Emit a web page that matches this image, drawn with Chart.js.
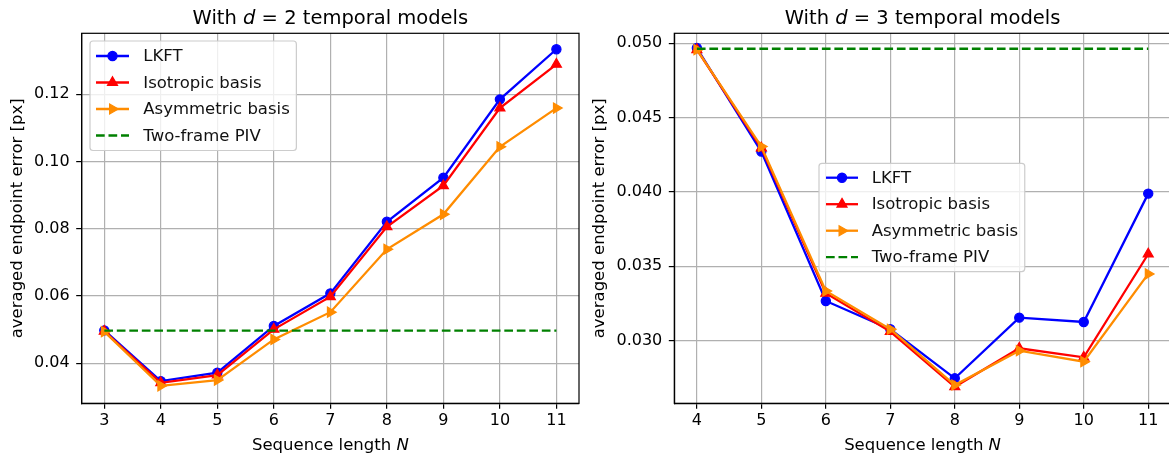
<!DOCTYPE html>
<html>
<head>
<meta charset="utf-8">
<script src="https://cdn.jsdelivr.net/npm/chart.js@4.4.1/dist/chart.umd.min.js"></script>
<style>
  html, body { margin: 0; padding: 0; background: #fff; overflow: hidden; }
  .panel { position: absolute; top: 0; width: 590px; height: 457px; }
</style>
</head>
<body>
<div class="panel" style="left:0"><canvas id="chartD2" width="590" height="457"></canvas></div>
<div class="panel" style="left:590px"><canvas id="chartD3" width="590" height="457"></canvas></div>
<script>
// endpoint error vs. sequence length, d = 2 temporal models
const lengthsD2 = [3, 4, 5, 6, 7, 8, 9, 10, 11];
const lkftD2 = [0.0498, 0.0347, 0.0372, 0.0511, 0.0608, 0.0821, 0.0952, 0.1185, 0.1334];
const isoD2  = [0.0495, 0.0342, 0.0365, 0.0501, 0.0598, 0.0806, 0.0928, 0.1159, 0.1289];
const asymD2 = [0.0494, 0.0333, 0.0350, 0.0471, 0.0552, 0.0739, 0.0843, 0.1044, 0.1159];
const pivXD2 = [3, 11];
const pivD2  = [0.0497, 0.0497];
const yTicksD2 = [0.04, 0.06, 0.08, 0.10, 0.12];

// d = 3 temporal models
const lengthsD3 = [4, 5, 6, 7, 8, 9, 10, 11];
const lkftD3 = [0.04968, 0.04272, 0.03267, 0.03077, 0.02747, 0.03155, 0.03126, 0.03989];
const isoD3  = [0.04957, 0.04295, 0.03319, 0.03061, 0.02690, 0.02949, 0.02888, 0.03583];
const asymD3 = [0.04957, 0.04306, 0.03334, 0.03077, 0.02702, 0.02933, 0.02859, 0.03449];
const pivXD3 = [4, 11];
const pivD3  = [0.04963, 0.04963];
const yTicksD3 = [0.030, 0.035, 0.040, 0.045, 0.050];

const FONT = '"DejaVu Sans"';
const FS_TICK = 16;
const FS = 16.5;
const FS_TITLE = 19.5;
Chart.defaults.font.family = FONT;

const pts = (xs, ys) => xs.map((x, i) => ({ x, y: ys[i] }));

function seriesFor(xs, lkft, iso, asym, pivX, piv) {
  return [
    { label: 'LKFT', data: pts(xs, lkft), color: '#0000ff', style: 'circle', rot: 0, r: 4.6, order: 3 },
    { label: 'Isotropic basis', data: pts(xs, iso), color: '#ff0000', style: 'triangle', rot: 0, r: 5.8, order: 2 },
    { label: 'Asymmetric basis', data: pts(xs, asym), color: '#ff8c00', style: 'triangle', rot: 90, r: 5.8, order: 1 },
    { label: 'Two-frame PIV', data: pts(pivX, piv), color: '#008000', style: false, rot: 0, r: 0, dash: [8.7, 3.8], order: 0 }
  ];
}

// mixed upright / italic text, centred on cx
function drawRuns(ctx, runs, cx, y) {
  const widths = runs.map(([t, it, size]) => {
    ctx.font = `${it ? 'italic ' : ''}${size}px ${FONT}`;
    return ctx.measureText(t).width;
  });
  let x = cx - widths.reduce((a, b) => a + b, 0) / 2;
  ctx.textAlign = 'left';
  ctx.textBaseline = 'alphabetic';
  runs.forEach(([t, it, size], i) => {
    ctx.font = `${it ? 'italic ' : ''}${size}px ${FONT}`;
    ctx.fillText(t, x, y);
    x += widths[i];
  });
}

const panelDecor = {
  id: 'panelDecor',
  afterDraw(chart, args, opts) {
    const { ctx, chartArea: a } = chart;
    ctx.save();

    // frame
    ctx.strokeStyle = '#000';
    ctx.lineWidth = 1.2;
    ctx.strokeRect(a.left, a.top, a.right - a.left, a.bottom - a.top);

    // legend
    const lg = opts.legend;
    const items = chart.data.datasets;
    ctx.font = `${FS}px ${FONT}`;
    const textW = Math.max(...items.map(d => ctx.measureText(d.label).width));
    const w = lg.textX - lg.x + textW + 0.4 * FS;
    const h = 2 * lg.pad + (items.length - 1) * lg.step;
    ctx.beginPath();
    ctx.roundRect(lg.x, lg.y, w, h, 3);
    ctx.fillStyle = 'rgba(255,255,255,0.8)';
    ctx.fill();
    ctx.strokeStyle = '#cccccc';
    ctx.lineWidth = 1.2;
    ctx.stroke();
    items.forEach((d, i) => {
      const y = lg.y + lg.pad + i * lg.step;
      ctx.strokeStyle = d.borderColor;
      ctx.lineWidth = 2.3;
      ctx.setLineDash(d.borderDash || []);
      ctx.beginPath();
      ctx.moveTo(lg.hx0, y);
      ctx.lineTo(lg.hx1, y);
      ctx.stroke();
      ctx.setLineDash([]);
      if (d.pointStyle) {
        ctx.fillStyle = d.pointBackgroundColor;
        ctx.strokeStyle = d.pointBorderColor;
        ctx.lineWidth = d.pointBorderWidth;
        Chart.helpers.drawPoint(ctx, {
          pointStyle: d.pointStyle, rotation: d.pointRotation,
          radius: d.pointRadius, borderWidth: d.pointBorderWidth
        }, (lg.hx0 + lg.hx1) / 2, y);
      }
      ctx.fillStyle = '#111';
      ctx.font = `${FS}px ${FONT}`;
      ctx.textAlign = 'left';
      ctx.textBaseline = 'middle';
      ctx.fillText(d.label, lg.textX, y + 1);
    });

    // titles
    ctx.fillStyle = '#000';
    const cx = (a.left + a.right) / 2;
    drawRuns(ctx, [['With ', false, FS_TITLE], ['d', true, FS_TITLE], [' = ' + opts.d + ' temporal models', false, FS_TITLE]], cx, 24);
    drawRuns(ctx, [['Sequence length ', false, FS], ['N', true, FS]], cx, 450);

    ctx.translate(opts.yTitleX, (a.top + a.bottom) / 2);
    ctx.rotate(-Math.PI / 2);
    ctx.font = `${FS}px ${FONT}`;
    ctx.textAlign = 'center';
    ctx.textBaseline = 'alphabetic';
    ctx.fillText('averaged endpoint error [px]', 0, 0);
    ctx.restore();
  }
};

function makeChart(id, cfg) {
  const datasets = cfg.series.map(s => ({
    label: s.label,
    data: s.data,
    order: s.order,
    borderColor: s.color,
    backgroundColor: s.color,
    borderWidth: 2.3,
    borderDash: s.dash || [],
    pointStyle: s.style,
    pointRotation: s.rot,
    pointRadius: s.r,
    pointBorderWidth: 1.2,
    pointBackgroundColor: s.color,
    pointBorderColor: s.color,
    tension: 0
  }));

  const axisCommon = {
    type: 'linear',
    grid: { color: '#b0b0b0', lineWidth: 1.2, tickColor: '#000', tickWidth: 1.2, tickLength: 5.5 },
    border: { display: true, color: '#000', width: 1.2 },
    ticks: { color: '#000', font: { family: FONT, size: FS_TICK }, autoSkip: false, maxRotation: 0 }
  };

  return new Chart(document.getElementById(id), {
    type: 'line',
    data: { datasets },
    options: {
      responsive: false,
      animation: false,
      events: [],
      layout: { padding: { left: 0, top: 33.3, right: cfg.padRight, bottom: 0 } },
      plugins: {
        legend: { display: false },
        tooltip: { enabled: false },
        panelDecor: { legend: cfg.legend, d: cfg.d, yTitleX: cfg.yTitleX }
      },
      scales: {
        x: {
          ...axisCommon,
          min: cfg.xMin, max: cfg.xMax,
          ticks: { ...axisCommon.ticks, padding: 2 },
          afterBuildTicks: s => { s.ticks = cfg.xTicks.map(v => ({ value: v })); },
          afterFit: s => { s.height = 53.7; }
        },
        y: {
          ...axisCommon,
          min: cfg.yMin, max: cfg.yMax,
          ticks: { ...axisCommon.ticks, padding: 6.5, callback: v => v.toFixed(cfg.digits) },
          afterBuildTicks: s => { s.ticks = cfg.yTicks.map(v => ({ value: v })); },
          afterFit: s => { s.width = cfg.yWidth; }
        }
      }
    },
    plugins: [panelDecor]
  });
}

makeChart('chartD2', {
  series: seriesFor(lengthsD2, lkftD2, isoD2, asymD2, pivXD2, pivD2),
  d: 2,
  xMin: 2.6, xMax: 11.4, xTicks: lengthsD2,
  yMin: 0.0281, yMax: 0.13814, yTicks: yTicksD2, digits: 2,
  yWidth: 81.7, padRight: 11, yTitleX: 21.5,
  legend: { x: 90, y: 41, pad: 15, step: 26.5, hx0: 96, hx1: 129, textX: 143.3 }
});

makeChart('chartD3', {
  series: seriesFor(lengthsD3, lkftD3, isoD3, asymD3, pivXD3, pivD3),
  d: 3,
  xMin: 3.65, xMax: 11.35, xTicks: lengthsD3,
  yMin: 0.02579, yMax: 0.05067, yTicks: yTicksD3, digits: 3,
  yWidth: 84.3, padRight: 9.2, yTitleX: 13.5,
  legend: { x: 229, y: 163.3, pad: 14.4, step: 26.5, hx0: 236, hx1: 268, textX: 281.7 }
});
</script>
</body>
</html>
